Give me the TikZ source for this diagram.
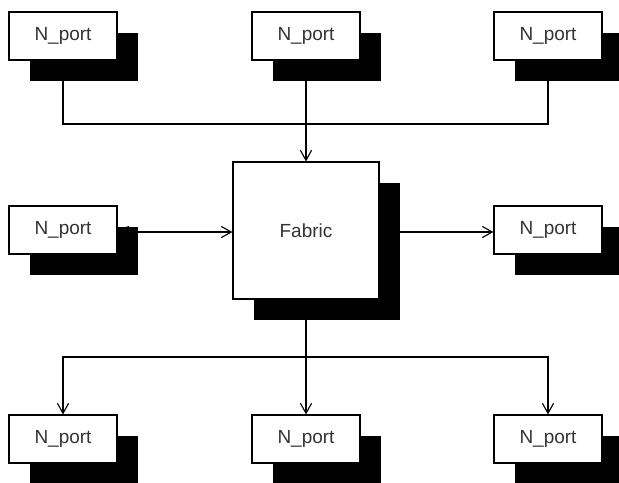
\documentclass[tikz,border=0pt]{standalone}
\usepackage{fontspec}
\setsansfont{Liberation Sans}
\usetikzlibrary{arrows.meta,shadows}

\begin{document}
\begin{tikzpicture}[x=0.025cm,y=-0.025cm,
        >={Straight Barb[length=2.5mm,width=2.8mm]},
        port/.style={draw,fill=white,line width=0.8pt,inner sep=0pt,
            minimum width=2.7cm,minimum height=1.2cm,
            font=\sffamily\fontsize{13.5}{16}\selectfont,text=black!80,
            drop shadow={shadow xshift=0.525cm,shadow yshift=-0.525cm,fill=black,opacity=1}},
        fabric/.style={port,minimum width=3.65cm,minimum height=3.425cm},
        wire/.style={line width=0.8pt},
        link/.style={wire,->}]
            \useasboundingbox (0,0) rectangle (619,482);
            \fill[white] (0,0) rectangle (619,482);

            % ports and fabric
            \node[port] (tl) at (63,36) {N\_port};
            \node[port] (tm) at (306,36) {N\_port};
            \node[port] (tr) at (548,36) {N\_port};
            \node[port] (ml) at (63,230) {N\_port};
            \node[fabric] (fab) at (306,230.5) {Fabric};
            \node[port] (mr) at (548,230) {N\_port};
            \node[port] (bl) at (63,439) {N\_port};
            \node[port] (bm) at (306,439) {N\_port};
            \node[port] (br) at (548,439) {N\_port};

            \coordinate (topbus) at (306,124);
            \coordinate (botbus) at (306,357);

            % connections
            \draw[wire] (tl.south) |- (topbus) -| (tr.south);
            \draw[link] (tm.south) -- (fab.north);
            \draw[wire,<->] (ml.east |- 0,232) -- (fab.west |- 0,232);
            \draw[link] (fab.east |- 0,232) -- (mr.west |- 0,232);
            \draw[link] (fab.south) -- (bm.north);
            \draw[link] (botbus) -| (bl.north);
            \draw[link] (botbus) -| (br.north);
        \end{tikzpicture}
\end{document}
